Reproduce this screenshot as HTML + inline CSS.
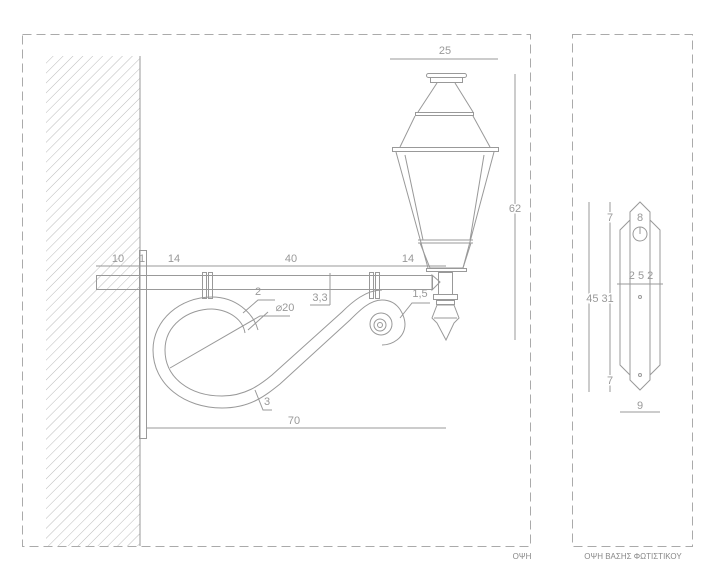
<!DOCTYPE html>
<html><head><meta charset="utf-8"><style>html,body{margin:0;padding:0;background:#fff}svg{display:block}</style></head>
<body>
<svg width="720" height="582" viewBox="0 0 720 582" xmlns="http://www.w3.org/2000/svg" font-family="Liberation Sans, sans-serif">
<defs>
<pattern id="h" width="7" height="7" patternUnits="userSpaceOnUse" patternTransform="rotate(45)">
<line x1="0" y1="0" x2="0" y2="7" stroke="#bbb" stroke-width="1"/>
</pattern>
</defs>
<g fill="none" stroke="#aaa" stroke-width="1">
<rect x="22.5" y="34.5" width="508" height="512" stroke-dasharray="9,5"/>
<rect x="572.5" y="34.5" width="120" height="512" stroke-dasharray="9,5"/>
</g>
<rect x="46" y="56" width="94" height="490" fill="url(#h)"/>
<g fill="none" stroke="#999" stroke-width="1">
<line x1="140" y1="56" x2="140" y2="546"/>
<rect x="139.5" y="250.5" width="7" height="188"/>
<!-- arm -->
<rect x="96.5" y="275.5" width="336" height="14"/>
<polygon points="432,275 440,282 432,290"/>
<rect x="202.5" y="272.5" width="4" height="26"/><rect x="208.5" y="272.5" width="4" height="26"/>
<rect x="369.5" y="272.5" width="4" height="26"/><rect x="375.5" y="272.5" width="4" height="26"/>
<!-- scroll -->
<path d="M212,297 C180,297 153,320 153,350 C153,385 185,408 222,408 C250,408 265,396 280,384 L350,320 C360,310 370,300 382,300 C400,300 405,318 405,324 C405,338 392,345 382,345"/>
<path d="M212,309 C188,309 165,325 165,350 C165,378 190,396 222,396 C245,396 260,385 272,375 L342,312 C352,302 366,290 382,290"/>
<path d="M212,297 C235,297 253,312 258,330 M245,333 C243,320 230,310 212,309"/>
<circle cx="381" cy="324" r="11"/><circle cx="380" cy="325" r="6"/><circle cx="380" cy="325" r="2.5"/>
<!-- lamp -->
<rect x="426.5" y="73.5" width="40" height="4" rx="2"/><rect x="430.5" y="77.5" width="32" height="5"/>
<path d="M437,83 L418,112 M455,83 L473,112"/>
<rect x="415.5" y="112.5" width="58" height="3"/>
<path d="M415,116 L400,147 M473,116 L490,147"/>
<rect x="392.5" y="147.5" width="106" height="4"/>
<path d="M396,152 L428,268 M494,152 L463,268 M405,155 L423,240 M484,155 L470,240"/>
<line x1="418" y1="240" x2="473" y2="240"/><line x1="418" y1="243" x2="473" y2="243"/>
<path d="M420,243 L430,268 L463,268 L471,243"/>
<rect x="426.5" y="268.5" width="40" height="3"/>
<rect x="438.5" y="272.5" width="14" height="22"/>
<rect x="433.5" y="294.5" width="24" height="5"/><rect x="436.5" y="300.5" width="18" height="4"/>
<path d="M437,305 L432,318 L437,323 L446,340 L454,323 L459,318 L454,305 Z M434,318 L457,318"/>
<!-- dims -->
<line x1="96" y1="266" x2="446" y2="266"/>
<line x1="390" y1="59" x2="498" y2="59"/>
<line x1="515" y1="74" x2="515" y2="340"/>
<line x1="146" y1="428" x2="446" y2="428"/>
<line x1="330" y1="273" x2="330" y2="305"/><line x1="310" y1="305" x2="330" y2="305"/>
<path d="M243,313 L258,300 L275,300 M248,330 L268,312 M170,368 L260,316 L290,316 M255,390 L263,410 L272,410 M400,318 L412,303 L430,303"/>
<!-- right view -->
<path d="M630,212 L640,202 L650,212 L650,380 L640,390 L630,380 Z"/>
<path d="M630,220 L620,230 L620,365 L630,375 M650,220 L660,230 L660,365 L650,375"/>
<circle cx="640" cy="234" r="7"/><line x1="640" y1="227" x2="640" y2="234"/>
<circle cx="640" cy="297" r="1.5"/><circle cx="640" cy="375" r="1.5"/>
<line x1="589" y1="202" x2="589" y2="392"/>
<line x1="610" y1="202" x2="610" y2="392"/>
<line x1="617" y1="284" x2="663" y2="284"/>
<line x1="620" y1="412" x2="660" y2="412"/>
</g>
<g fill="#999" font-size="11" text-anchor="middle">
<text x="118" y="262">10</text><text x="142" y="262">1</text><text x="174" y="262">14</text>
<text x="291" y="262">40</text><text x="408" y="262">14</text>
<text x="445" y="54">25</text><text x="515" y="212" fill="#999" stroke="#fff" stroke-width="3" paint-order="stroke">62</text>
<text x="294" y="424">70</text>
<text x="258" y="295">2</text><text x="285" y="311">⌀20</text><text x="320" y="301">3,3</text>
<text x="420" y="297">1,5</text><text x="267" y="405">3</text>
<text x="640" y="221">8</text><text x="610" y="221" stroke="#fff" stroke-width="3" paint-order="stroke">7</text>
<text x="610" y="384" stroke="#fff" stroke-width="3" paint-order="stroke">7</text>
<text x="641" y="279">2 5 2</text>
<text x="600" y="302" stroke="#fff" stroke-width="3" paint-order="stroke">45 31</text>
<text x="640" y="409">9</text>
</g>
<g fill="#888" font-size="8" text-anchor="middle">
<text x="522" y="559">ΟΨΗ</text><text x="633" y="559">ΟΨΗ ΒΑΣΗΣ ΦΩΤΙΣΤΙΚΟΥ</text>
</g>
</svg>
</body></html>
